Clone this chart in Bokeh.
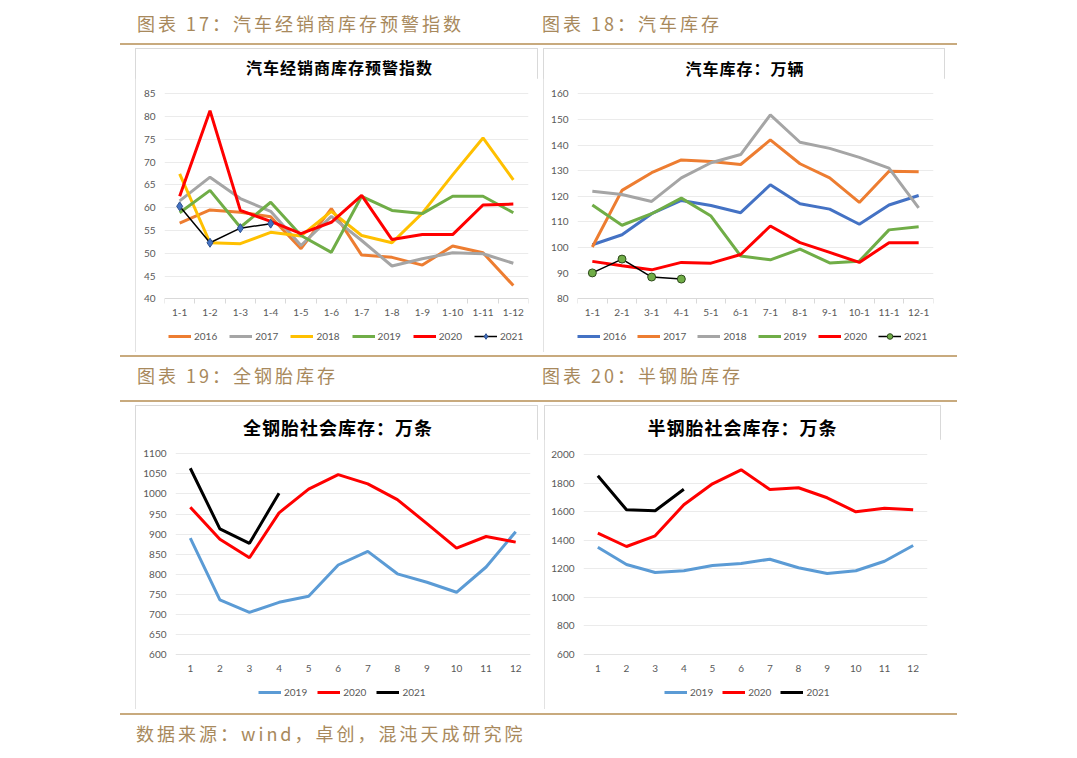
from bokeh.plotting import figure
from bokeh.models import Range1d, FixedTicker, Legend, LegendItem, Div, Spacer
from bokeh.layouts import row, column
from bokeh.embed import file_html
from bokeh.resources import INLINE

# ---------------- data ----------------
dealer_months = ["1-1", "1-2", "1-3", "1-4", "1-5", "1-6", "1-7", "1-8", "1-9", "1-10", "1-11", "1-12"]
dealer_2016 = [56.6, 59.5, 59.0, 58.0, 51.0, 59.8, 49.6, 49.1, 47.4, 51.6, 50.1, 42.9]
dealer_2017 = [61.5, 66.7, 62.0, 59.2, 51.7, 58.1, 52.8, 47.2, 48.8, 50.1, 49.9, 47.8]
dealer_2018 = [67.4, 52.3, 52.1, 54.6, 53.8, 59.2, 53.9, 52.3, 58.8, 67.2, 75.3, 66.1]
dealer_2019 = [58.9, 63.8, 55.7, 61.2, 53.9, 50.2, 62.5, 59.4, 58.7, 62.5, 62.5, 58.9]
dealer_2020 = [62.5, 81.3, 59.4, 57.0, 54.3, 56.8, 62.7, 53.0, 54.1, 54.1, 60.6, 60.8]
dealer_2021 = [60.3, 52.3, 55.5, 56.5]
dealer_yticks = [40, 45, 50, 55, 60, 65, 70, 75, 80, 85]

stock_months = ["1-1", "2-1", "3-1", "4-1", "5-1", "6-1", "7-1", "8-1", "9-1", "10-1", "11-1", "12-1"]
stock_2016 = [101.1, 105.0, 113.2, 118.4, 116.4, 113.6, 124.5, 117.1, 115.0, 109.1, 116.6, 120.3]
stock_2017 = [100.2, 122.3, 129.2, 134.2, 133.6, 132.4, 142.0, 132.7, 127.2, 117.6, 129.8, 129.6]
stock_2018 = [122.0, 120.7, 118.0, 127.2, 133.1, 136.3, 151.8, 141.1, 138.7, 135.2, 131.0, 115.5]
stock_2019 = [116.6, 108.7, 113.2, 119.3, 112.3, 96.7, 95.2, 99.4, 94.0, 94.7, 106.9, 108.1]
stock_2020 = [94.6, 92.9, 91.3, 94.2, 93.9, 97.3, 108.4, 101.9, 98.1, 94.2, 101.9, 101.9]
stock_2021 = [90.1, 95.5, 88.5, 87.7]
stock_yticks = [80, 90, 100, 110, 120, 130, 140, 150, 160]

tyre_months = ["1", "2", "3", "4", "5", "6", "7", "8", "9", "10", "11", "12"]
allsteel_2019 = [890, 736, 705, 730, 745, 823, 857, 801, 780, 755, 818, 906]
allsteel_2020 = [967, 887, 841, 953, 1012, 1048, 1025, 986, 926, 865, 894, 880]
allsteel_2021 = [1064, 913, 877, 1002]
allsteel_yticks = [600, 650, 700, 750, 800, 850, 900, 950, 1000, 1050, 1100]

semisteel_2019 = [1351, 1230, 1174, 1186, 1223, 1237, 1267, 1207, 1167, 1186, 1253, 1363]
semisteel_2020 = [1449, 1356, 1431, 1648, 1795, 1893, 1755, 1767, 1697, 1599, 1624, 1613]
semisteel_2021 = [1851, 1613, 1606, 1757]
semisteel_yticks = [600, 800, 1000, 1200, 1400, 1600, 1800, 2000]

ORANGE, GRAY, YELLOW, GREEN, RED, BLACK = "#ed7d31", "#a5a5a5", "#ffc000", "#70ad47", "#ff0000", "#000000"
BLUE16, BLUE19 = "#4472c4", "#5b9bd5"

TICK_FONT = "Lato"
CJK = "Noto Sans CJK SC"
TAN = "#c8aa7e"
TAN_TEXT = "#a8895c"
PANEL_H = 304


def make_panel(title, title_size, title_h, title_top, title_shift, cats, series, yr, yticks,
               w, bl, br, ytop_px, ybot_px, leg_x, leg_vy, leg_spacing, cat_ticks, xstand):
    """ytop_px / ybot_px: panel-local pixel rows wanted for yr[1] / yr[0]."""
    fig_h = PANEL_H - title_h
    frame_top = int(round(ytop_px - title_h)) - 2   # figure-local
    frame_bot = fig_h - 4                          # figure-local (min_border_bottom = 4)
    y_top = ytop_px - title_h
    y_bot = ybot_px - title_h
    upp = (yr[1] - yr[0]) / (y_bot - y_top)
    y_start = yr[0] - (frame_bot - y_bot) * upp
    y_end = yr[1] + (y_top - frame_top) * upp

    p = figure(width=w, height=fig_h, output_backend="svg", toolbar_location=None,
               x_range=Range1d(0.5, len(cats) + 0.5), y_range=Range1d(y_start, y_end),
               min_border_left=bl, min_border_right=br, min_border_top=frame_top,
               min_border_bottom=4)
    p.outline_line_color = None
    p.background_fill_color = "white"
    p.border_fill_color = "white"

    xs = list(range(1, len(cats) + 1))
    items = []
    for name, vals, color, lw, marker in series:
        x = xs[:len(vals)]
        r = p.line(x, vals, line_color=color, line_width=lw)
        rs = [r]
        if marker is not None:
            mk, fill, edge, size = marker
            s = p.scatter(x, vals, marker=mk, size=size, fill_color=fill, line_color=edge, line_width=1)
            rs.append(s)
        items.append(LegendItem(label=name, renderers=rs))

    xa = p.xaxis[0]
    xa.fixed_location = yr[0]
    xa.ticker = FixedTicker(ticks=xs, minor_ticks=[i + 0.5 for i in range(0, len(cats) + 1)])
    xa.major_label_overrides = {i + 1: c for i, c in enumerate(cats)}
    xa.major_tick_line_color = None
    xa.major_tick_out = 0
    xa.major_tick_in = 0
    if cat_ticks:
        xa.minor_tick_line_color = "#d9d9d9"
        xa.minor_tick_out = 5
        xa.minor_tick_in = 0
        xa.axis_line_color = "#d9d9d9"
    else:
        xa.minor_tick_line_color = None
        xa.axis_line_color = "#e3e3e3"
    xa.major_label_standoff = xstand
    xa.major_label_text_font = TICK_FONT
    xa.major_label_text_font_size = "10px"
    xa.major_label_text_color = "#595959"

    ya = p.yaxis[0]
    ya.ticker = FixedTicker(ticks=yticks)
    ya.axis_line_color = None
    ya.major_tick_line_color = None
    ya.minor_tick_line_color = None
    ya.major_tick_out = 0
    ya.major_label_standoff = 9
    ya.major_label_text_font = TICK_FONT
    ya.major_label_text_font_size = "10px"
    ya.major_label_text_color = "#595959"

    p.xgrid.grid_line_color = None
    p.ygrid.grid_line_color = "#ebebeb"
    p.ygrid.ticker = FixedTicker(ticks=[t for t in yticks if t != yr[0]])

    leg = Legend(items=items, orientation="horizontal", location=(leg_x, leg_vy),
                 glyph_width=23, glyph_height=14, label_standoff=3, spacing=leg_spacing,
                 padding=0, margin=0, border_line_color=None, background_fill_alpha=0,
                 label_text_font=TICK_FONT, label_text_font_size="10px",
                 label_text_color="#595959", label_height=20)
    p.add_layout(leg)

    head = Div(text=('<div style="width:%dpx;height:%dpx;box-sizing:border-box;padding-top:%dpx;'
                     'padding-left:%dpx;text-align:center;font-family:\'Noto Sans CJK SC\';'
                     'font-weight:bold;font-size:%s;line-height:22px;letter-spacing:1px;'
                     'color:#000000;white-space:nowrap;">%s</div>')
               % (w, title_h, title_top, title_shift, title_size, title),
               width=w, height=title_h, margin=0)
    return column(head, p, spacing=0, width=w, height=PANEL_H,
                  styles={"outline": "1px solid #d9d9d9", "outline-offset": "-1px",
                          "background": "white"})


p1 = make_panel("汽车经销商库存预警指数", "16px", 30, 8, 6, dealer_months, [
    ("2016", dealer_2016, ORANGE, 3, None),
    ("2017", dealer_2017, GRAY, 3, None),
    ("2018", dealer_2018, YELLOW, 3, None),
    ("2019", dealer_2019, GREEN, 3, None),
    ("2020", dealer_2020, RED, 3, None),
    ("2021", dealer_2021, BLACK, 1.5, ("diamond", "#4472c4", "#2f528f", 9)),
], (40, 85), dealer_yticks, 403, 29, 10, 45.3, 250.3, 4, 2, 12, True, 5)

p2 = make_panel("汽车库存：万辆", "16px", 30, 9, 2, stock_months, [
    ("2016", stock_2016, BLUE16, 3, None),
    ("2017", stock_2017, ORANGE, 3, None),
    ("2018", stock_2018, GRAY, 3, None),
    ("2019", stock_2019, GREEN, 3, None),
    ("2020", stock_2020, RED, 3, None),
    ("2021", stock_2021, BLACK, 1.5, ("circle", "#70ad47", "#2e4a1c", 8)),
], (80, 160), stock_yticks, 402, 34, 12, 45.3, 250.3, 0, 2, 11, True, 5)

p3 = make_panel("全钢胎社会库存：万条", "18px", 34, 11, 3, tyre_months, [
    ("2019", allsteel_2019, BLUE19, 3, None),
    ("2020", allsteel_2020, RED, 3, None),
    ("2021", allsteel_2021, BLACK, 3, None),
], (600, 1100), allsteel_yticks, 403, 40, 8, 48.3, 249.0, 83, 3, 10, False, 6)

p4 = make_panel("半钢胎社会库存：万条", "18px", 34, 11, 0, tyre_months, [
    ("2019", semisteel_2019, BLUE19, 3, None),
    ("2020", semisteel_2020, RED, 3, None),
    ("2021", semisteel_2021, BLACK, 3, None),
], (600, 2000), semisteel_yticks, 397, 39, 14, 49.0, 249.0, 81, 3, 9, False, 6)


def hdr_text(left, top, txt):
    return ('<div style="position:absolute;left:%dpx;top:%dpx;font-family:\'Noto Sans CJK SC\';'
            'font-size:18px;line-height:22px;letter-spacing:3px;color:%s;white-space:nowrap;">%s</div>'
            % (left, top, TAN_TEXT, txt))


def hline(top):
    return ('<div style="position:absolute;left:120px;top:%dpx;width:837px;height:2px;background:%s;"></div>'
            % (top, TAN))


def box(h, inner):
    return '<div style="position:relative;width:1060px;height:%dpx;overflow:hidden;">%s</div>' % (h, inner)


head1 = Div(text=box(48, hdr_text(137, 12, "图表 17：汽车经销商库存预警指数") +
                     hdr_text(542, 12, "图表 18：汽车库存") + hline(43)),
            width=1060, height=48, margin=0)
head2 = Div(text=box(53, hline(3) + hdr_text(137, 12, "图表 19：全钢胎库存") +
                     hdr_text(542, 12, "图表 20：半钢胎库存") + hline(48)),
            width=1060, height=53, margin=0)
foot = Div(text=box(41, hline(4) + hdr_text(136, 13, "数据来源：wind，卓创，混沌天成研究院")),
           width=1060, height=41, margin=0)

row1 = row(Spacer(width=135, height=PANEL_H, margin=0), p1, Spacer(width=5, height=PANEL_H, margin=0), p2,
           spacing=0)
row2 = row(Spacer(width=135, height=PANEL_H, margin=0), p3, Spacer(width=6, height=PANEL_H, margin=0), p4,
           spacing=0)
layout = column(head1, row1, head2, row2, foot, spacing=0)

open("out.html", "w").write(file_html(layout, INLINE))
